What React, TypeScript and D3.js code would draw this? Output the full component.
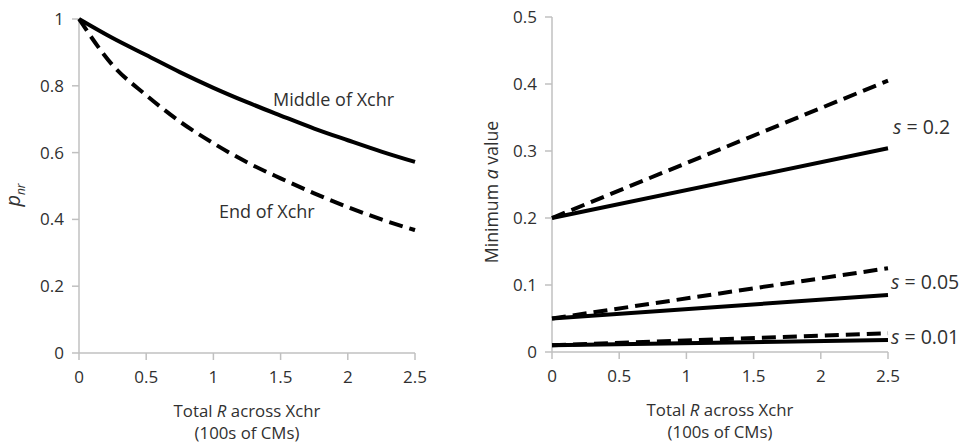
import React from 'react';
import * as d3 from 'd3';

// left panel: p_nr vs total R
const rValues = [0, 0.25, 0.5, 0.75, 1, 1.25, 1.5, 1.75, 2, 2.25, 2.5];
const middleXchr = [1, 0.943, 0.892, 0.841, 0.794, 0.751, 0.711, 0.672, 0.637, 0.603, 0.572];
const endXchr = [1, 0.862, 0.772, 0.693, 0.628, 0.571, 0.523, 0.478, 0.437, 0.4, 0.368];

// right panel: minimum a value vs total R
const rEnds = [0, 2.5];
const s02Solid = [0.2, 0.304];
const s02Dashed = [0.2, 0.405];
const s005Solid = [0.05, 0.085];
const s005Dashed = [0.05, 0.125];
const s001Solid = [0.01, 0.018];
const s001Dashed = [0.01, 0.028];

const xTicks = [0, 0.5, 1, 1.5, 2, 2.5];
const leftYTicks = [0, 0.2, 0.4, 0.6, 0.8, 1];
const rightYTicks = [0, 0.1, 0.2, 0.3, 0.4, 0.5];

const font = '"Open Sans", sans-serif';
const axisColor = '#c0c0c0';
const textColor = '#303030';

type Pt = [number, number];

const Axes = ({ x, y, yTicks }: { x: d3.ScaleLinear<number, number>; y: d3.ScaleLinear<number, number>; yTicks: number[] }) => {
    const [x0, x1] = x.range();
    const [y0, y1] = y.range();
    return (
        <g>
            <line x1={x0} x2={x0} y1={y0} y2={y1} stroke={axisColor} strokeWidth={1.5} />
            <line x1={x0} x2={x1} y1={y0} y2={y0} stroke={axisColor} strokeWidth={1.5} />
            {yTicks.map(t => (
                <g key={'y' + t}>
                    <line x1={x0 - 7} x2={x0} y1={y(t)} y2={y(t)} stroke={axisColor} strokeWidth={1.5} />
                    <text x={x0 - 15} y={y(t)} dy="0.35em" textAnchor="end" fontSize={17} fill={textColor}>{String(t)}</text>
                </g>
            ))}
            {xTicks.map(t => (
                <g key={'x' + t}>
                    <line x1={x(t)} x2={x(t)} y1={y0} y2={y0 + 7} stroke={axisColor} strokeWidth={1.5} />
                    <text x={x(t)} y={y0 + 24} dy="0.35em" textAnchor="middle" fontSize={17} fill={textColor}>{String(t)}</text>
                </g>
            ))}
            <text x={(x0 + x1) / 2} y={y0 + 58} dy="0.35em" textAnchor="middle" fontSize={16.8} fill={textColor}>
                Total <tspan fontStyle="italic">R</tspan> across Xchr
            </text>
            <text x={(x0 + x1) / 2} y={y0 + 80} dy="0.35em" textAnchor="middle" fontSize={16.8} fill={textColor}>(100s of CMs)</text>
        </g>
    );
};

const App = () => {
    const xL = d3.scaleLinear().domain([0, 2.5]).range([79, 415]);
    const yL = d3.scaleLinear().domain([0, 1]).range([353, 19]);
    const xR = d3.scaleLinear().domain([0, 2.5]).range([552, 888]);
    const yR = d3.scaleLinear().domain([0, 0.5]).range([352, 17]);

    const lineL = d3.line<Pt>().x(d => xL(d[0])).y(d => yL(d[1])).curve(d3.curveMonotoneX);
    const lineR = d3.line<Pt>().x(d => xR(d[0])).y(d => yR(d[1]));

    const pts = (xs: number[], ys: number[]): Pt[] => xs.map((v, i) => [v, ys[i]]);

    const rightSeries = [
        { vals: s02Dashed, dashed: true },
        { vals: s02Solid, dashed: false },
        { vals: s005Dashed, dashed: true },
        { vals: s005Solid, dashed: false },
        { vals: s001Dashed, dashed: true },
        { vals: s001Solid, dashed: false },
    ];

    return (
        <svg width={963} height={444} style={{ position: 'absolute', left: 0, top: 0, background: '#fff' }} fontFamily={font}>
            <Axes x={xL} y={yL} yTicks={leftYTicks} />
            <path d={lineL(pts(rValues, middleXchr)) ?? ''} fill="none" stroke="#000" strokeWidth={4} />
            <path d={lineL(pts(rValues, endXchr)) ?? ''} fill="none" stroke="#000" strokeWidth={4} strokeDasharray="14 7" />
            <text x={273} y={100} dy="0.35em" fontSize={18} fill={textColor}>Middle of Xchr</text>
            <text x={219} y={212} dy="0.35em" fontSize={18} fill={textColor}>End of Xchr</text>
            <text transform="translate(20,195) rotate(-90)" textAnchor="middle" fontSize={20} fill={textColor}>
                <tspan fontStyle="italic">p</tspan><tspan fontStyle="italic" fontSize={12} dy={5}>nr</tspan>
            </text>

            <Axes x={xR} y={yR} yTicks={rightYTicks} />
            {rightSeries.map((s, i) => (
                <path key={i} d={lineR(pts(rEnds, s.vals)) ?? ''} fill="none" stroke="#000" strokeWidth={4}
                    strokeDasharray={s.dashed ? '14 7' : undefined} />
            ))}
            <text transform="translate(492,192) rotate(-90)" dy="0.35em" textAnchor="middle" fontSize={17.7} fill={textColor}>
                Minimum <tspan fontStyle="italic">a</tspan> value
            </text>
            <text x={893} y={127} dy="0.35em" fontSize={19.5} fill={textColor}><tspan fontStyle="italic">s</tspan> = 0.2</text>
            <text x={891} y={282} dy="0.35em" fontSize={19.5} fill={textColor}><tspan fontStyle="italic">s</tspan> = 0.05</text>
            <text x={891} y={337} dy="0.35em" fontSize={19.5} fill={textColor}><tspan fontStyle="italic">s</tspan> = 0.01</text>
        </svg>
    );
};

export default App;
